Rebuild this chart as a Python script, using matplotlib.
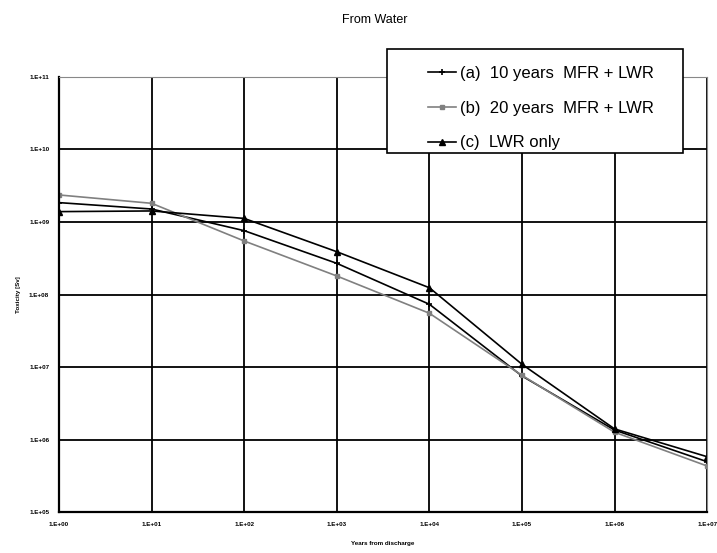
import matplotlib
matplotlib.use("Agg")
import matplotlib.pyplot as plt
from matplotlib.ticker import FixedLocator, NullLocator
from matplotlib.patches import Rectangle

years = [1e0, 1e1, 1e2, 1e3, 1e4, 1e5, 1e6, 1e7]
series_a = [1.85e9, 1.51e9, 7.59e8, 2.69e8, 7.33e7, 7.52e6, 1.35e6, 4.94e5]
series_b = [2.36e9, 1.81e9, 5.47e8, 1.80e8, 5.51e7, 7.67e6, 1.26e6, 4.31e5]
series_c = [1.39e9, 1.42e9, 1.12e9, 3.89e8, 1.24e8, 1.09e7, 1.40e6, 5.79e5]
labels = ["(a)  10 years  MFR + LWR", "(b)  20 years  MFR + LWR", "(c)  LWR only"]
x_ticks = [1e0, 1e1, 1e2, 1e3, 1e4, 1e5, 1e6, 1e7]
x_ticklabels = ["1.E+00", "1.E+01", "1.E+02", "1.E+03", "1.E+04", "1.E+05", "1.E+06", "1.E+07"]
y_ticks = [1e5, 1e6, 1e7, 1e8, 1e9, 1e10, 1e11]
y_ticklabels = ["1.E+05", "1.E+06", "1.E+07", "1.E+08", "1.E+09", "1.E+10", "1.E+11"]

plt.rcParams['font.family'] = ['Liberation Sans', 'DejaVu Sans']

W, H = 717, 553
fig = plt.figure(figsize=(7.17, 5.53), dpi=100)
ax = fig.add_axes([0.0823, 0.0741, 0.904, 0.7867])

ax.set_xscale('log')
ax.set_yscale('log')

la, = ax.plot(years, series_a, color='black', lw=1.2, marker='+', ms=5, mew=1.2)
lb, = ax.plot(years, series_b, color='#808080', lw=1.2, marker='s', ms=3.5)
lc, = ax.plot(years, series_c, color='black', lw=1.2, marker='^', ms=4)

ax.set_xlim(1e0, 1e7)
ax.set_ylim(1e5, 1e11)
ax.xaxis.set_major_locator(FixedLocator(x_ticks))
ax.yaxis.set_major_locator(FixedLocator(y_ticks))
ax.xaxis.set_minor_locator(NullLocator())
ax.yaxis.set_minor_locator(NullLocator())
ax.set_xticklabels(x_ticklabels, fontsize=4.5, fontweight='bold')
ax.set_yticklabels(y_ticklabels, fontsize=4.5, fontweight='bold')
ax.tick_params(length=0, pad=7)

ax.grid(True, color='black', lw=1.3)
ax.set_axisbelow(True)
for s in ['left', 'bottom']:
    ax.spines[s].set_linewidth(1.6)
for s in ['top', 'right']:
    ax.spines[s].set_linewidth(0.8)
    ax.spines[s].set_color('#888888')

ax.set_xlabel("Years from discharge", fontsize=4.5, fontweight='bold', labelpad=10)
ax.set_ylabel("Toxicity [Sv]", fontsize=4.5, fontweight='bold', labelpad=6)

fig.text(0.523, 0.963, "From Water", ha='center', va='center', fontsize=9)

# legend box
box = Rectangle((387 / W, 1 - 153 / H), (683 - 387) / W, (153 - 49) / H,
                transform=fig.transFigure, facecolor='white', edgecolor='black',
                lw=1.2, zorder=5)
fig.patches.append(box)

leg = fig.legend([la, lb, lc], labels, loc='upper left',
                 bbox_to_anchor=(428 / W, 1 - 66 / H), fontsize=12,
                 frameon=False, handlelength=1.7, labelspacing=1.18,
                 borderpad=0, handletextpad=0.25, borderaxespad=0)
leg.set_zorder(6)

fig.savefig("out.png", dpi=100, facecolor='white')
